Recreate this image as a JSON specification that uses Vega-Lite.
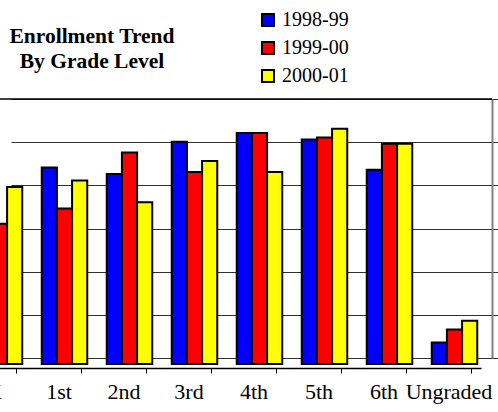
{
  "$schema": "https://vega.github.io/schema/vega-lite/v6.json",
  "width": 492,
  "height": 259,
  "autosize": {"type": "none"},
  "padding": {"left": 0, "top": 99, "right": 6, "bottom": 54},
  "background": "white",
  "config": {"view": {"stroke": null}, "font": "Liberation Serif"},
  "title": {
    "text": ["Enrollment Trend", "By Grade Level"],
    "anchor": "start",
    "frame": "group",
    "align": "center",
    "dx": 92,
    "offset": -84,
    "font": "Liberation Serif",
    "fontSize": 21.5,
    "fontWeight": "bold",
    "color": "black",
    "lineHeight": 25,
    "baseline": "bottom"
  },
  "layer": [
    {
      "data": {"values": [{"v": 120}]},
      "mark": {"type": "rule", "color": "black", "strokeWidth": 1.5},
      "encoding": {"y": {"field": "v", "type": "quantitative"}}
    },
    {
      "data": {
        "values": [
          {"grade": "K", "year": "1998-99", "value": 85},
          {"grade": "K", "year": "1999-00", "value": 65},
          {"grade": "K", "year": "2000-01", "value": 82},
          {"grade": "1st", "year": "1998-99", "value": 91},
          {"grade": "1st", "year": "1999-00", "value": 72},
          {"grade": "1st", "year": "2000-01", "value": 85},
          {"grade": "2nd", "year": "1998-99", "value": 88},
          {"grade": "2nd", "year": "1999-00", "value": 98},
          {"grade": "2nd", "year": "2000-01", "value": 75},
          {"grade": "3rd", "year": "1998-99", "value": 103},
          {"grade": "3rd", "year": "1999-00", "value": 89},
          {"grade": "3rd", "year": "2000-01", "value": 94},
          {"grade": "4th", "year": "1998-99", "value": 107},
          {"grade": "4th", "year": "1999-00", "value": 107},
          {"grade": "4th", "year": "2000-01", "value": 89},
          {"grade": "5th", "year": "1998-99", "value": 104},
          {"grade": "5th", "year": "1999-00", "value": 105},
          {"grade": "5th", "year": "2000-01", "value": 109},
          {"grade": "6th", "year": "1998-99", "value": 90},
          {"grade": "6th", "year": "1999-00", "value": 102},
          {"grade": "6th", "year": "2000-01", "value": 102},
          {"grade": "Ungraded", "year": "1998-99", "value": 10},
          {"grade": "Ungraded", "year": "1999-00", "value": 16},
          {"grade": "Ungraded", "year": "2000-01", "value": 20}
        ]
      },
      "mark": {"type": "bar", "stroke": "black", "strokeWidth": 2, "yOffset": 6, "y2Offset": 6},
      "encoding": {
        "x": {
          "field": "grade",
          "type": "nominal",
          "sort": ["K", "1st", "2nd", "3rd", "4th", "5th", "6th", "Ungraded"],
          "scale": {"range": [-39, 481], "paddingInner": 0.3, "paddingOuter": 0.15},
          "axis": {
            "title": null,
            "offset": 10,
            "tickBand": "extent",
            "tickSize": 5,
            "tickColor": "black",
            "domainColor": "black",
            "domainWidth": 1.5,
            "labelFont": "Liberation Serif",
            "labelFontSize": 22,
            "labelColor": "black",
            "labelAngle": 0,
            "labelPadding": 8,
            "labelFlush": false,
            "grid": false
          }
        },
        "xOffset": {"field": "year", "type": "nominal", "scale": {"range": [6, 51.5], "paddingInner": 0, "paddingOuter": 0}},
        "y": {
          "field": "value",
          "type": "quantitative",
          "scale": {"domain": [0, 120], "nice": false},
          "axis": {
            "orient": "right",
            "title": null,
            "labels": false,
            "ticks": false,
            "domainColor": "#808080",
            "domainWidth": 2,
            "grid": true,
            "gridColor": "#303030",
            "values": [0, 20, 40, 60, 80, 100, 120]
          }
        },
        "color": {
          "field": "year",
          "type": "nominal",
          "scale": {"range": ["#0000FF", "#FF0000", "#FFFF00"]},
          "legend": {
            "title": null,
            "orient": "none",
            "legendX": 258,
            "legendY": -89,
            "symbolType": "square",
            "symbolSize": 144,
            "symbolStrokeColor": "black",
            "symbolStrokeWidth": 2,
            "symbolOpacity": 1,
            "labelFont": "Liberation Serif",
            "labelFontSize": 20,
            "labelColor": "black",
            "rowPadding": 8,
            "labelOffset": 4,
            "padding": 0
          }
        }
      }
    }
  ]
}
